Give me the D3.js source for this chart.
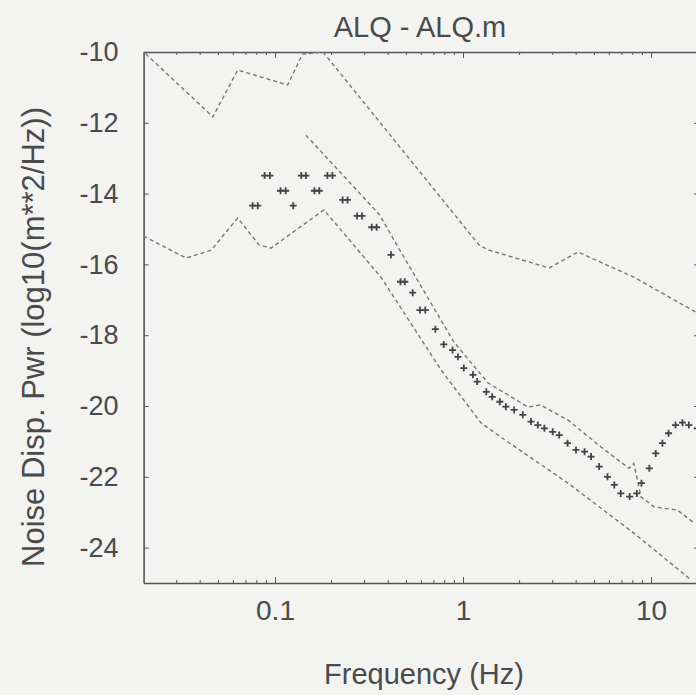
<!DOCTYPE html>
<html>
<head>
<meta charset="utf-8">
<script src="https://cdn.jsdelivr.net/npm/d3@7"></script>
<style>
  html, body { margin: 0; padding: 0; background: #f3f3f1; }
  svg { display: block; font-family: 'Liberation Sans', Arial, Helvetica, sans-serif; }
  .axis path, .axis line { stroke: #555; }
  .axis text { fill: #4a4a4a; }
</style>
</head>
<body>
<svg id="chart"></svg>
<script>
// upper dashed envelope
const upperFreq = [0.0205, 0.0467, 0.0633, 0.1168, 0.140, 0.18, 1.217, 1.36, 2.87, 4.09, 8.1, 17.6];
const upperPwr = [-10.05, -11.83, -10.51, -10.93, -10.06, -10.0, -15.45, -15.59, -16.1, -15.65, -16.36, -17.37];

// middle dashed curve
const middleFreq = [0.146, 0.36, 0.45, 0.896, 1.36, 2.22, 2.58, 3.62, 5.42, 7.63, 8.1, 8.85, 10.4, 13.8, 16.9];
const middlePwr = [-12.35, -14.6, -15.5, -18.2, -19.35, -20.03, -19.97, -20.4, -21.16, -21.76, -21.62, -22.57, -22.85, -22.94, -23.3];

// lower dashed envelope
const lowerFreq = [0.02, 0.0336, 0.0457, 0.0633, 0.0822, 0.0952, 0.182, 0.366, 0.764, 1.247, 1.59, 3.62, 8.1, 16.4];
const lowerPwr = [-15.2, -15.82, -15.6, -14.69, -15.45, -15.54, -14.46, -16.36, -18.98, -20.48, -20.88, -22.18, -23.59, -24.92];

// measured spectrum (+ markers)
const markerFreq = [0.076, 0.081, 0.088, 0.094, 0.107, 0.114, 0.125, 0.138, 0.146, 0.162, 0.172, 0.190, 0.202,
  0.229, 0.243, 0.273, 0.290, 0.327, 0.347, 0.414, 0.465, 0.49, 0.54, 0.59, 0.63, 0.713, 0.79, 0.88, 0.94,
  1.01, 1.13, 1.19, 1.33, 1.43, 1.57, 1.69, 1.87, 2.08, 2.3, 2.5, 2.71, 3.0, 3.25, 3.6, 3.99, 4.43, 4.8,
  5.3, 5.87, 6.38, 6.9, 7.7, 8.4, 8.9, 9.8, 10.6, 11.5, 12.4, 13.5, 14.7, 15.9, 17.6];
const markerPwr = [-14.34, -14.34, -13.49, -13.49, -13.92, -13.92, -14.34, -13.49, -13.49, -13.92, -13.92, -13.49, -13.49,
  -14.18, -14.18, -14.63, -14.63, -14.95, -14.95, -15.73, -16.49, -16.49, -16.8, -17.29, -17.29, -17.83, -18.26, -18.42, -18.61,
  -18.93, -19.12, -19.31, -19.6, -19.74, -19.88, -20.02, -20.11, -20.25, -20.44, -20.54, -20.63, -20.73, -20.82, -21.05, -21.24, -21.29, -21.43,
  -21.71, -22.0, -22.23, -22.47, -22.56, -22.47, -22.18, -21.76, -21.34, -21.05, -20.77, -20.54, -20.47, -20.54, -20.63];

const xTicks = [0.1, 1, 10];
const yTicks = [-10, -12, -14, -16, -18, -20, -22, -24];

const width = 696;
const height = 695;
const plot = { left: 143.6, right: 699, top: 52, bottom: 583 };

const x = d3.scaleLog().domain([0.02, 18]).range([plot.left, plot.right]);
const y = d3.scaleLinear().domain([-25, -10]).range([plot.bottom, plot.top]);

const svg = d3.select('#chart').attr('width', width).attr('height', height);

svg.append('defs').append('clipPath').attr('id', 'clip')
  .append('rect')
  .attr('x', plot.left).attr('y', plot.top)
  .attr('width', plot.right - plot.left).attr('height', plot.bottom - plot.top);

// minor log ticks for top and bottom
const minorTicks = [];
[0.01, 0.1, 1, 10].forEach(d => { for (let k = 2; k <= 9; k++) minorTicks.push(d * k); });
const minor = minorTicks.filter(v => v > 0.02 && v < 18);

function frameX(g, pos, dir) {
  g.selectAll('line.minor').data(minor).enter().append('line')
    .attr('class', 'minor')
    .attr('x1', d => x(d)).attr('x2', d => x(d))
    .attr('y1', pos).attr('y2', pos + dir * 3)
    .attr('stroke', '#555').attr('stroke-width', 1);
}

const bottomAxis = svg.append('g')
  .attr('class', 'axis')
  .attr('transform', `translate(0, ${plot.bottom})`)
  .call(d3.axisBottom(x).tickValues(xTicks).tickFormat(d3.format('')).tickSizeInner(-6).tickSizeOuter(0).tickPadding(20));
bottomAxis.select('.domain').attr('stroke-width', 1.6);
bottomAxis.selectAll('text').attr('font-size', 28).attr('dy', '0.62em');
frameX(svg.append('g'), plot.bottom, -1);

const topAxis = svg.append('g')
  .attr('class', 'axis')
  .attr('transform', `translate(0, ${plot.top})`)
  .call(d3.axisTop(x).tickValues(xTicks).tickFormat('').tickSizeInner(-6).tickSizeOuter(0));
topAxis.select('.domain').attr('stroke-width', 1.6);
frameX(svg.append('g'), plot.top, 1);

// plain hyphen minus like the original plot
const leftAxis = svg.append('g')
  .attr('class', 'axis')
  .attr('transform', `translate(${plot.left}, 0)`)
  .call(d3.axisLeft(y).tickValues(yTicks).tickFormat(d => String(d)).tickSizeInner(-5).tickSizeOuter(0).tickPadding(25));
leftAxis.select('.domain').attr('stroke-width', 1.6);
leftAxis.selectAll('text').attr('font-size', 27);

svg.append('g')
  .attr('class', 'axis')
  .attr('transform', `translate(${plot.right}, 0)`)
  .call(d3.axisRight(y).tickValues(yTicks).tickFormat('').tickSizeInner(-5).tickSizeOuter(0))
  .select('.domain').attr('stroke-width', 1.6);

// dashed curves
const line = d3.line().x(d => x(d[0])).y(d => y(d[1]));
const curves = [
  d3.zip(upperFreq, upperPwr),
  d3.zip(middleFreq, middlePwr),
  d3.zip(lowerFreq, lowerPwr)
];

svg.append('g').attr('clip-path', 'url(#clip)')
  .selectAll('path')
  .data(curves)
  .enter()
  .append('path')
  .attr('d', line)
  .attr('fill', 'none')
  .attr('stroke', '#777')
  .attr('stroke-width', 1.4)
  .attr('stroke-dasharray', '4,3');

// + markers
svg.append('g').attr('clip-path', 'url(#clip)')
  .selectAll('path')
  .data(d3.zip(markerFreq, markerPwr))
  .enter()
  .append('path')
  .attr('transform', d => `translate(${x(d[0])}, ${y(d[1])})`)
  .attr('d', 'M-3.5,0H3.5M0,-3.5V3.5')
  .attr('stroke', '#444')
  .attr('stroke-width', 1.8);

// titles
svg.append('text')
  .attr('x', 420).attr('y', 37)
  .attr('text-anchor', 'middle')
  .attr('font-size', 29)
  .attr('fill', '#4a4a4a')
  .text('ALQ - ALQ.m');

svg.append('text')
  .attr('x', 424).attr('y', 684)
  .attr('text-anchor', 'middle')
  .attr('font-size', 29)
  .attr('fill', '#4a4a4a')
  .text('Frequency (Hz)');

svg.append('text')
  .attr('transform', 'translate(44, 337) rotate(-90)')
  .attr('text-anchor', 'middle')
  .attr('font-size', 31)
  .attr('fill', '#4a4a4a')
  .text('Noise Disp. Pwr (log10(m**2/Hz))');
</script>
</body>
</html>
